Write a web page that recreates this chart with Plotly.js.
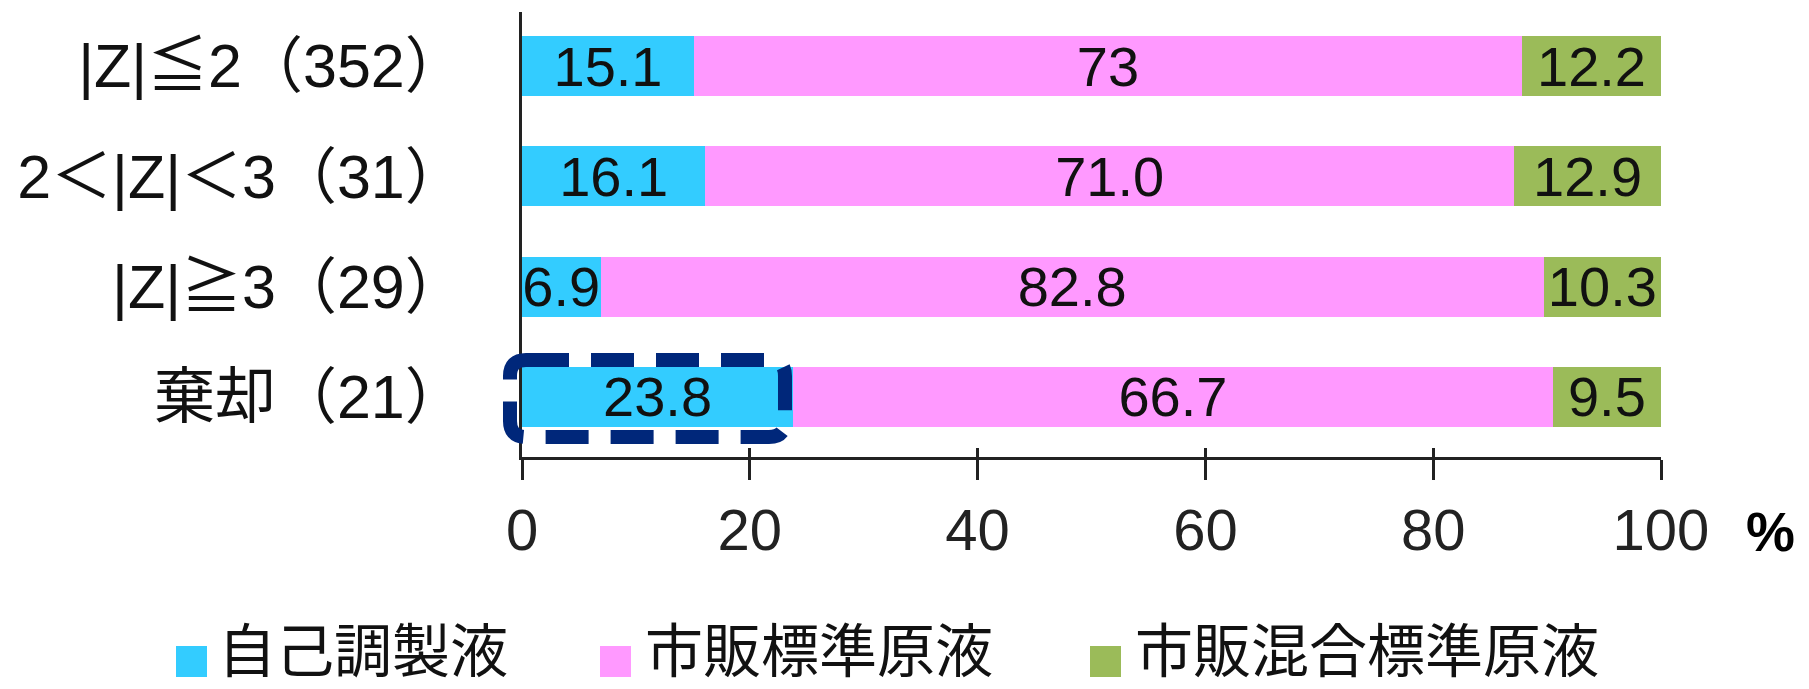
<!DOCTYPE html>
<html><head><meta charset="utf-8">
<script src="https://cdn.plot.ly/plotly-3.0.1.min.js"></script>
<style>html,body{margin:0;padding:0;background:#fff}</style>
</head><body><div id="chart" style="width:1809px;height:689px"></div>
<script>
// ---- data ----
const categories = ['|Z|≦2（352）', '2＜|Z|＜3（31）', '|Z|≧3（29）', '棄却（21）'];
const seriesNames = ['自己調製液', '市販標準原液', '市販混合標準原液'];
const selfPrepared = [15.1, 16.1, 6.9, 23.8];
const commercialStd = [72.7, 71.0, 82.8, 66.7];
const commercialMix = [12.2, 12.9, 10.3, 9.5];
const selfLabels = ['15.1', '16.1', '6.9', '23.8'];
const stdLabels = ['73', '71.0', '82.8', '66.7'];
const mixLabels = ['12.2', '12.9', '10.3', '9.5'];
const xTicks = [0, 20, 40, 60, 80, 100];
const colors = ['#33CCFF', '#FF99FF', '#9BBB59'];

// ---- layout helpers (pixel box of the plot area) ----
const W = 1809, H = 689;
const PL = 522, PR = 1661, PT = 12, PB = 457;
const px = x => (x - PL) / (PR - PL);
const py = y => (PB - y) / (PB - PT);

const FONT = 'Liberation Sans, Arial, "Noto Sans CJK JP", sans-serif';

function barTrace(vals, labels, name, color) {
  return {
    type: 'bar', orientation: 'h',
    y: categories, x: vals, name: name,
    text: labels, textposition: 'inside', insidetextanchor: 'middle',
    textangle: 0, constraintext: 'none', cliponaxis: false,
    insidetextfont: {family: FONT, size: 56, color: '#111'},
    marker: {color: color, line: {width: 0}},
    hoverinfo: 'x+name', showlegend: false
  };
}

const data = [
  barTrace(selfPrepared, selfLabels, seriesNames[0], colors[0]),
  barTrace(commercialStd, stdLabels, seriesNames[1], colors[1]),
  barTrace(commercialMix, mixLabels, seriesNames[2], colors[2])
];

// rounded dashed highlight box around the 棄却 / 自己調製液 bar
function roundRect(x0, y0, x1, y1, r) {
  const X = v => px(v).toFixed(5), Y = v => py(v).toFixed(5);
  return `M${X(x0 + r)},${Y(y0)} L${X(x1 - r)},${Y(y0)} Q${X(x1)},${Y(y0)} ${X(x1)},${Y(y0 + r)} ` +
         `L${X(x1)},${Y(y1 - r)} Q${X(x1)},${Y(y1)} ${X(x1 - r)},${Y(y1)} ` +
         `L${X(x0 + r)},${Y(y1)} Q${X(x0)},${Y(y1)} ${X(x0)},${Y(y1 - r)} ` +
         `L${X(x0)},${Y(y0 + r)} Q${X(x0)},${Y(y0)} ${X(x0 + r)},${Y(y0)} Z`;
}

const shapes = [
  {type: 'path', xref: 'paper', yref: 'paper', layer: 'above',
   path: roundRect(510, 360, 785, 437, 16),
   line: {color: '#00277A', width: 14, dash: '43px,22px'}}
];

// legend squares + names
const legSquares = [176, 600, 1090];
const legTexts = [216, 643, 1133];
const annotations = [];
seriesNames.forEach((n, i) => {
  shapes.push({type: 'rect', xref: 'paper', yref: 'paper',
    x0: px(legSquares[i]), x1: px(legSquares[i] + 31), y0: py(677), y1: py(646),
    fillcolor: colors[i], line: {width: 0}});
  annotations.push({xref: 'paper', yref: 'paper', x: px(legTexts[i]), y: py(647),
    xanchor: 'left', yanchor: 'middle', showarrow: false, text: n,
    font: {family: '"Noto Sans CJK JP", sans-serif', size: 58, color: '#111'}});
});
annotations.push({xref: 'paper', yref: 'paper', x: px(1770), y: py(532),
  xanchor: 'center', yanchor: 'middle', showarrow: false, text: '<b>%</b>',
  font: {family: 'Liberation Sans, Arial, sans-serif', size: 55, color: '#000'}});

const layout = {
  width: W, height: H,
  margin: {l: PL, r: W - PR, t: PT, b: H - PB, pad: 0},
  paper_bgcolor: '#fff', plot_bgcolor: '#fff',
  barmode: 'stack', bargap: 0.456,
  showlegend: false,
  font: {family: FONT, color: '#111'},
  xaxis: {
    range: [0, 100], tickvals: xTicks, ticktext: xTicks.map(String), ticksuffix: ' ',
    ticks: 'outside', ticklen: 20, tickwidth: 3, tickcolor: '#222',
    showline: true, linecolor: '#222', linewidth: 3,
    showgrid: false, zeroline: false,
    tickfont: {family: FONT, size: 58, color: '#222'},
    ticklabelstandoff: 0, fixedrange: true
  },
  xaxis2: {
    overlaying: 'x', anchor: 'y', side: 'bottom', matches: 'x',
    range: [0, 100], tickvals: xTicks,
    ticks: 'inside', ticklen: 9, tickwidth: 3, tickcolor: '#222',
    showticklabels: false, showline: false, showgrid: false, zeroline: false
  },
  yaxis: {
    type: 'category', categoryorder: 'array', categoryarray: categories,
    range: [3.544, -0.49],
    showline: true, linecolor: '#222', linewidth: 3,
    ticks: '', showgrid: false, zeroline: false,
    tickfont: {family: FONT, size: 61, color: '#111'},
    ticklabelstandoff: 41, fixedrange: true
  },
  shapes: shapes,
  annotations: annotations
};

// invisible helper trace so xaxis2 is drawn
data.push({type: 'scatter', x: [0, 100], y: [categories[0], categories[0]], xaxis: 'x2', yaxis: 'y',
  mode: 'markers', marker: {opacity: 0}, hoverinfo: 'skip', showlegend: false});

Plotly.newPlot('chart', data, layout, {displayModeBar: false, staticPlot: true});
</script>
</body></html>
